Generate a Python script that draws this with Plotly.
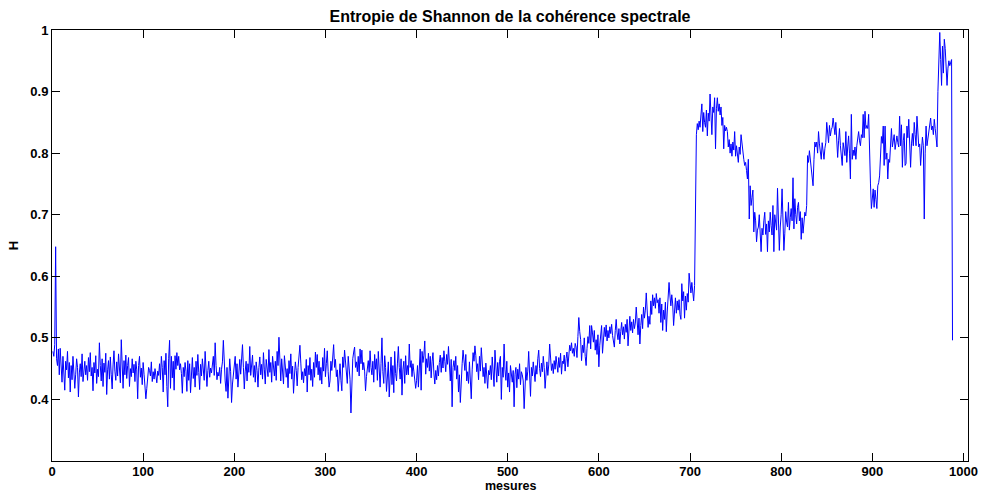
import plotly.graph_objects as go

title_text = "Entropie de Shannon de la cohérence spectrale"
x_label = "mesures"
y_label = "H"
x_ticks = [0, 100, 200, 300, 400, 500, 600, 700, 800, 900, 1000]
y_ticks = [0.4, 0.5, 0.6, 0.7, 0.8, 0.9, 1.0]
y_tick_text = ["0.4", "0.5", "0.6", "0.7", "0.8", "0.9", "1"]

h_000 = [
    0.478, 0.470, 0.489, 0.648, 0.466, 0.455, 0.482, 0.440, 0.483, 0.452,
    0.428, 0.470, 0.441, 0.415, 0.462, 0.448, 0.478, 0.435, 0.460, 0.412,
    0.455, 0.432, 0.470, 0.447, 0.418, 0.441, 0.466, 0.452, 0.404, 0.443,
    0.458, 0.437, 0.474, 0.429, 0.449, 0.462, 0.440, 0.455, 0.431, 0.468,
    0.445, 0.476, 0.438, 0.452, 0.414, 0.460, 0.443, 0.471, 0.426, 0.449,
    0.437, 0.492, 0.455, 0.430, 0.466, 0.421, 0.459, 0.444, 0.475, 0.408,
    0.448, 0.463, 0.433, 0.469, 0.440, 0.417, 0.456, 0.479, 0.446, 0.431,
    0.461, 0.438, 0.474, 0.451, 0.427, 0.497, 0.445, 0.418, 0.463, 0.440,
    0.472, 0.434, 0.455, 0.468, 0.421, 0.450, 0.437, 0.466, 0.443, 0.457,
    0.429, 0.462, 0.448, 0.401, 0.455, 0.470, 0.436, 0.451, 0.424, 0.460,
]
h_100 = [
    0.441, 0.425, 0.401, 0.418, 0.436, 0.452, 0.447, 0.438, 0.461, 0.429,
    0.445, 0.433, 0.450, 0.441, 0.427, 0.446, 0.439, 0.458, 0.432, 0.470,
    0.452, 0.412, 0.463, 0.440, 0.475, 0.421, 0.388, 0.466, 0.496, 0.418,
    0.470, 0.435, 0.462, 0.415, 0.471, 0.449, 0.476, 0.455, 0.470, 0.448,
    0.458, 0.442, 0.410, 0.452, 0.437, 0.460, 0.446, 0.413, 0.463, 0.431,
    0.458, 0.411, 0.450, 0.468, 0.434, 0.452, 0.420, 0.462, 0.439, 0.473,
    0.444, 0.416, 0.457, 0.438, 0.466, 0.449, 0.431, 0.478, 0.455, 0.421,
    0.447, 0.462, 0.436, 0.451, 0.443, 0.460, 0.470, 0.439, 0.492, 0.455,
    0.432, 0.444, 0.438, 0.452, 0.426, 0.449, 0.461, 0.496, 0.448, 0.430,
    0.413, 0.452, 0.402, 0.440, 0.466, 0.445, 0.395, 0.425, 0.438, 0.455,
]
h_200 = [
    0.470, 0.433, 0.458, 0.420, 0.448, 0.465, 0.441, 0.476, 0.489, 0.452,
    0.417, 0.446, 0.462, 0.430, 0.458, 0.444, 0.486, 0.439, 0.451, 0.472,
    0.436, 0.455, 0.428, 0.461, 0.447, 0.420, 0.452, 0.469, 0.440, 0.457,
    0.433, 0.476, 0.448, 0.425, 0.465, 0.452, 0.437, 0.481, 0.444, 0.460,
    0.428, 0.470, 0.449, 0.438, 0.462, 0.431, 0.478, 0.455, 0.501, 0.442,
    0.430, 0.466, 0.447, 0.425, 0.471, 0.458, 0.436, 0.450, 0.419, 0.463,
    0.442, 0.474, 0.433, 0.454, 0.410, 0.438, 0.461, 0.447, 0.422, 0.452,
    0.470, 0.488, 0.459, 0.432, 0.445, 0.427, 0.450, 0.438, 0.465, 0.412,
    0.455, 0.440, 0.468, 0.431, 0.449, 0.421, 0.460, 0.436, 0.477, 0.452,
    0.473, 0.440, 0.462, 0.431, 0.452, 0.425, 0.468, 0.446, 0.483, 0.437,
]
h_300 = [
    0.458, 0.479, 0.445, 0.420, 0.430, 0.462, 0.447, 0.474, 0.489, 0.452,
    0.465, 0.437, 0.448, 0.413, 0.446, 0.458, 0.431, 0.414, 0.469, 0.452,
    0.480, 0.463, 0.441, 0.426, 0.470, 0.455, 0.432, 0.378, 0.448, 0.466,
    0.477, 0.485, 0.452, 0.461, 0.445, 0.470, 0.438, 0.482, 0.458, 0.480,
    0.448, 0.460, 0.446, 0.414, 0.437, 0.455, 0.463, 0.444, 0.479, 0.452,
    0.440, 0.462, 0.428, 0.473, 0.449, 0.466, 0.431, 0.478, 0.443, 0.420,
    0.458, 0.500, 0.445, 0.426, 0.471, 0.452, 0.413, 0.438, 0.461, 0.404,
    0.447, 0.469, 0.424, 0.455, 0.411, 0.478, 0.442, 0.430, 0.459, 0.486,
    0.452, 0.433, 0.466, 0.407, 0.448, 0.462, 0.426, 0.471, 0.440, 0.455,
    0.440, 0.490, 0.452, 0.463, 0.437, 0.458, 0.446, 0.425, 0.418, 0.431,
]
h_400 = [
    0.455, 0.420, 0.468, 0.482, 0.415, 0.478, 0.460, 0.472, 0.495, 0.441,
    0.466, 0.452, 0.475, 0.446, 0.470, 0.435, 0.461, 0.476, 0.443, 0.425,
    0.447, 0.432, 0.455, 0.438, 0.460, 0.472, 0.444, 0.468, 0.451, 0.479,
    0.462, 0.445, 0.473, 0.457, 0.486, 0.449, 0.430, 0.465, 0.388, 0.452,
    0.463, 0.447, 0.470, 0.433, 0.455, 0.412, 0.440, 0.395, 0.436, 0.458,
    0.480, 0.462, 0.447, 0.473, 0.430, 0.445, 0.426, 0.461, 0.415, 0.401,
    0.448, 0.476, 0.462, 0.487, 0.471, 0.445, 0.458, 0.432, 0.470, 0.446,
    0.484, 0.463, 0.437, 0.452, 0.426, 0.459, 0.433, 0.418, 0.447, 0.440,
    0.455, 0.432, 0.469, 0.445, 0.421, 0.480, 0.447, 0.428, 0.460, 0.438,
    0.462, 0.470, 0.400, 0.452, 0.436, 0.490, 0.448, 0.431, 0.462, 0.420,
]
h_500 = [
    0.443, 0.412, 0.455, 0.438, 0.428, 0.447, 0.388, 0.441, 0.452, 0.419,
    0.449, 0.433, 0.458, 0.424, 0.445, 0.440, 0.430, 0.385, 0.437, 0.452,
    0.431, 0.446, 0.478, 0.440, 0.405, 0.452, 0.438, 0.461, 0.444, 0.429,
    0.455, 0.441, 0.466, 0.480, 0.450, 0.437, 0.459, 0.445, 0.470, 0.452,
    0.418, 0.448, 0.461, 0.439, 0.456, 0.490, 0.466, 0.447, 0.458, 0.442,
    0.463, 0.449, 0.470, 0.455, 0.444, 0.468, 0.452, 0.475, 0.441, 0.462,
    0.458, 0.472, 0.446, 0.466, 0.477, 0.453, 0.469, 0.488, 0.479, 0.492,
    0.475, 0.483, 0.470, 0.491, 0.485, 0.468, 0.502, 0.533, 0.510, 0.497,
    0.463, 0.488, 0.476, 0.500, 0.470, 0.455, 0.483, 0.502, 0.491, 0.520,
    0.482, 0.520, 0.508, 0.493, 0.512, 0.480, 0.497, 0.473, 0.505, 0.453,
]
h_600 = [
    0.488, 0.510, 0.520, 0.475, 0.498, 0.517, 0.502, 0.521, 0.495, 0.512,
    0.500, 0.518, 0.507, 0.522, 0.504, 0.496, 0.485, 0.512, 0.530, 0.508,
    0.497, 0.515, 0.490, 0.510, 0.525, 0.505, 0.518, 0.498, 0.522, 0.509,
    0.530, 0.487, 0.520, 0.535, 0.512, 0.526, 0.508, 0.530, 0.515, 0.524,
    0.550, 0.525, 0.505, 0.532, 0.490, 0.520, 0.538, 0.515, 0.550, 0.532,
    0.545, 0.573, 0.540, 0.517, 0.535, 0.522, 0.560, 0.538, 0.570, 0.552,
    0.565, 0.548, 0.572, 0.557, 0.562, 0.540, 0.565, 0.525, 0.555, 0.512,
    0.545, 0.530, 0.558, 0.510, 0.542, 0.560, 0.590, 0.568, 0.552, 0.570,
    0.555, 0.520, 0.548, 0.565, 0.540, 0.560, 0.545, 0.562, 0.538, 0.530,
    0.588, 0.560, 0.575, 0.532, 0.568, 0.545, 0.572, 0.558, 0.605, 0.580,
]
h_700 = [
    0.573, 0.590, 0.565, 0.560, 0.585, 0.700, 0.830, 0.848, 0.838, 0.852,
    0.842, 0.862, 0.880, 0.835, 0.866, 0.850, 0.842, 0.870, 0.828, 0.865,
    0.852, 0.896, 0.858, 0.830, 0.875, 0.866, 0.890, 0.807, 0.872, 0.890,
    0.868, 0.880, 0.862, 0.875, 0.845, 0.858, 0.807, 0.845, 0.836, 0.842,
    0.835, 0.810, 0.822, 0.800, 0.815, 0.795, 0.818, 0.805, 0.835, 0.795,
    0.812, 0.800, 0.785, 0.810, 0.798, 0.830, 0.812, 0.803, 0.790, 0.780,
    0.785, 0.772, 0.758, 0.790, 0.693, 0.747, 0.715, 0.728, 0.740, 0.672,
    0.704, 0.690, 0.656, 0.675, 0.680, 0.700, 0.660, 0.640, 0.678, 0.667,
    0.690, 0.704, 0.668, 0.685, 0.640, 0.690, 0.672, 0.704, 0.682, 0.667,
    0.715, 0.640, 0.700, 0.688, 0.675, 0.743, 0.693, 0.642, 0.680, 0.700,
]
h_800 = [
    0.742, 0.693, 0.642, 0.670, 0.705, 0.688, 0.680, 0.720, 0.675, 0.695,
    0.710, 0.690, 0.760, 0.677, 0.726, 0.700, 0.685, 0.712, 0.720, 0.690,
    0.705, 0.660, 0.695, 0.670, 0.688, 0.704, 0.698, 0.715, 0.796, 0.785,
    0.804, 0.792, 0.775, 0.760, 0.747, 0.790, 0.818, 0.810, 0.818, 0.800,
    0.835, 0.815, 0.805, 0.790, 0.817, 0.800, 0.790, 0.808, 0.817, 0.850,
    0.835, 0.817, 0.845, 0.828, 0.838, 0.842, 0.857, 0.840, 0.830, 0.850,
    0.804, 0.793, 0.820, 0.840, 0.812, 0.800, 0.780, 0.817, 0.805, 0.796,
    0.835, 0.785, 0.810, 0.828, 0.800, 0.758, 0.863, 0.790, 0.805, 0.796,
    0.810, 0.790, 0.812, 0.825, 0.835, 0.820, 0.812, 0.830, 0.825, 0.863,
    0.825, 0.868, 0.840, 0.845, 0.840, 0.863, 0.785, 0.750, 0.710, 0.737,
]
h_900 = [
    0.742, 0.712, 0.740, 0.725, 0.710, 0.747, 0.752, 0.763, 0.800, 0.827,
    0.816, 0.844, 0.780, 0.844, 0.790, 0.800, 0.758, 0.790, 0.785, 0.815,
    0.840, 0.810, 0.822, 0.830, 0.806, 0.818, 0.828, 0.817, 0.810, 0.860,
    0.812, 0.846, 0.777, 0.820, 0.832, 0.780, 0.783, 0.844, 0.825, 0.855,
    0.800, 0.777, 0.815, 0.832, 0.812, 0.850, 0.830, 0.812, 0.860, 0.835,
    0.810, 0.815, 0.780, 0.805, 0.826, 0.812, 0.693, 0.800, 0.844, 0.812,
    0.825, 0.830, 0.845, 0.857, 0.838, 0.844, 0.830, 0.855, 0.840, 0.822,
    0.810, 0.900, 0.960, 0.996, 0.952, 0.910, 0.974, 0.930, 0.985, 0.970,
    0.940, 0.910, 0.938, 0.950, 0.942, 0.948, 0.952, 0.496,
]

H = h_000 + h_100 + h_200 + h_300 + h_400 + h_500 + h_600 + h_700 + h_800 + h_900
mesures = list(range(1, len(H) + 1))

font_family = "Liberation Sans, Arial, Helvetica, sans-serif"
label_font = dict(family=font_family, size=13, color="black", weight="bold")

fig = go.Figure()
fig.add_trace(go.Scatter(
    x=mesures, y=H, mode="lines",
    line=dict(color="#0000FF", width=1),
    hoverinfo="skip", showlegend=False,
))

axis_common = dict(
    showgrid=False, zeroline=False, automargin=False,
    showline=True, linecolor="black", linewidth=1, mirror="allticks",
    ticks="inside", ticklen=8, tickwidth=1, tickcolor="black",
    tickfont=label_font,
)

fig.update_layout(
    width=984, height=493,
    margin=dict(l=52, r=16, t=30, b=32, autoexpand=False),
    paper_bgcolor="white", plot_bgcolor="white",
    title=dict(
        text=title_text, x=0.5, xref="paper", xanchor="center",
        y=1 - 16 / 493, yref="container", yanchor="middle",
        font=dict(family=font_family, size=16, color="black", weight="bold"),
    ),
    xaxis=dict(range=[0, 1005], tickvals=x_ticks, ticklabelstandoff=-2, **axis_common),
    yaxis=dict(
        range=[0.3, 1.0], tickvals=y_ticks, ticktext=y_tick_text,
        title=dict(text=y_label, standoff=8, font=label_font),
        **axis_common,
    ),
    annotations=[dict(
        text=x_label, x=0.5, xref="paper", y=0, yref="paper",
        yanchor="top", yshift=-16, showarrow=False,
        font=dict(family=font_family, size=12.5, color="black", weight="bold"),
    )],
)

fig.write_html(
    "out.html",
    config={"displayModeBar": False},
    post_script="document.body.style.margin='0';document.body.style.overflow='hidden';",
)
